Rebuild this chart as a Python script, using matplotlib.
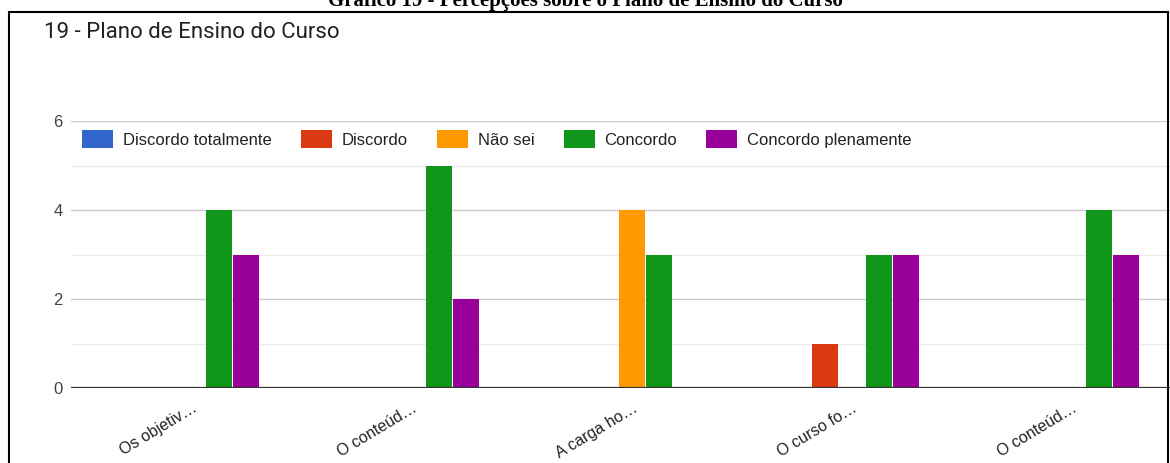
import matplotlib.pyplot as plt
import matplotlib.patches as mpatches
import numpy as np

# dados do gráfico
categorias = ["Os objetiv…", "O conteúd…", "A carga ho…", "O curso fo…", "O conteúd…"]
series = ["Discordo totalmente", "Discordo", "Não sei", "Concordo", "Concordo plenamente"]
discordo_totalmente = [0, 0, 0, 0, 0]
discordo = [0, 0, 0, 1, 0]
nao_sei = [0, 0, 4, 0, 0]
concordo = [4, 5, 3, 3, 4]
concordo_plenamente = [3, 2, 0, 3, 3]
cores = ["#3366cc", "#dc3912", "#ff9900", "#109618", "#990099"]

valores = [discordo_totalmente, discordo, nao_sei, concordo, concordo_plenamente]

plt.rcParams['font.family'] = ['Liberation Sans', 'DejaVu Sans']

fig = plt.figure(figsize=(11.7, 4.63), dpi=100)
W, H = 1170.0, 463.0
ax = fig.add_axes([71 / W, (H - 388) / H, (1170 - 71) / W, (388 - 121) / H])

x = np.arange(len(categorias))
largura = 0.123
for i, (nome, vals) in enumerate(zip(series, valores)):
    desloc = (i - 2) * largura
    ax.bar(x + desloc, vals, largura * 0.97, color=cores[i], label=nome, zorder=3)

ax.set_xlim(-0.55, 4.445)
ax.set_ylim(0, 6)
ax.set_yticks([0, 2, 4, 6])
ax.set_yticks([1, 3, 5], minor=True)
ax.grid(axis='y', which='major', color='#cccccc', linewidth=1, zorder=0)
ax.grid(axis='y', which='minor', color='#ebebeb', linewidth=1, zorder=0)
ax.tick_params(axis='y', which='both', length=0, labelsize=12, labelcolor='#444444', pad=6)
ax.axhline(0, color='#333333', linewidth=1.6, zorder=4)
for s in ax.spines.values():
    s.set_visible(False)

ax.set_xticks(x)
ax.set_xticklabels(categorias, rotation=31, ha='right', rotation_mode='anchor',
                   fontsize=11.5, color='#222222')
ax.tick_params(axis='x', length=0, pad=9)

leg = ax.legend(loc='center left', bbox_to_anchor=(11 / 1099, 1 - 18 / 267), ncol=5,
                frameon=False, fontsize=12, handlelength=1.86, handleheight=1.3,
                handletextpad=0.6, columnspacing=1.74, borderaxespad=0, borderpad=0,
                labelcolor='#222222')

# título interno
fig.text(44 / W, 1 - 32 / H, "19 - Plano de Ensino do Curso", fontsize=16, color='#222222',
         va='center', ha='left', family=['Roboto', 'DejaVu Sans'])

# legenda do documento, cortada no topo
fig.text(0.5, 1 - 1 / H, "Gráfico 19 - Percepções sobre o Plano de Ensino do Curso",
         fontsize=15, fontweight='bold', ha='center', va='center',
         family=['Liberation Serif', 'DejaVu Serif'])

# moldura preta
moldura = mpatches.Rectangle((9 / W, -0.05), (1168 - 9) / W, (H - 12) / H + 0.05,
                             transform=fig.transFigure, fill=False, edgecolor='black',
                             linewidth=1.5, clip_on=False)
fig.patches.append(moldura)

plt.savefig('out.png', dpi=100)
